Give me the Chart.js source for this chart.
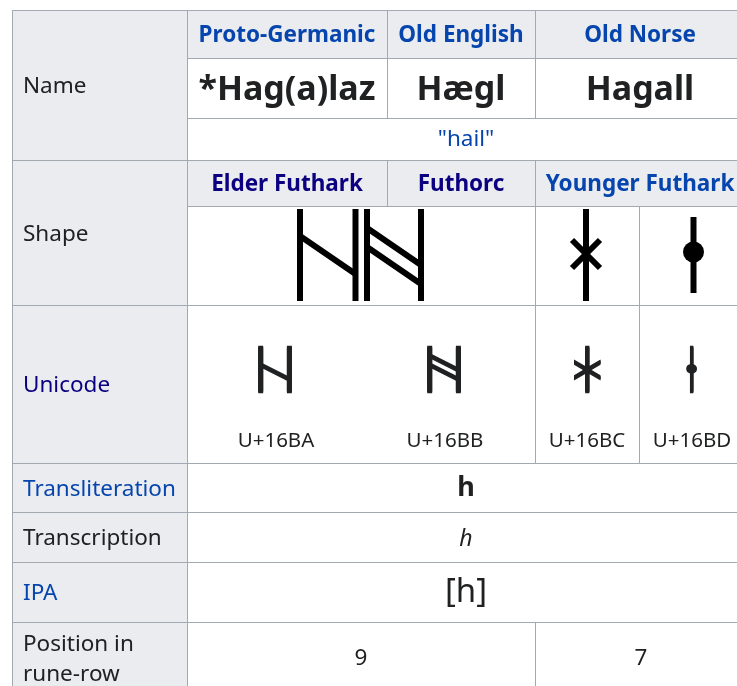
<!DOCTYPE html>
<html>
<head>
<meta charset="utf-8">
<script src="https://cdn.jsdelivr.net/npm/chart.js@4.4.1/dist/chart.umd.min.js"></script>
<style>
    html, body { margin: 0; padding: 0; background: #ffffff; }
    canvas { display: block; }
</style>
</head>
<body>
<canvas id="tablaRunas" width="737" height="686"></canvas>
<script>
// Datos de la tabla (runa hagalaz)
const columnHeaders = ['Proto-Germanic', 'Old English', 'Old Norse'];
const runeNames = ['*Hag(a)laz', 'Hægl', 'Hagall'];
const gloss = '"hail"';
const rowLabels = ['Name', 'Shape', 'Unicode', 'Transliteration', 'Transcription', 'IPA', 'Position in\nrune-row'];
const shapeHeaders = ['Elder Futhark', 'Futhorc', 'Younger Futhark'];
const unicodeGlyphs = ['ᚺ', 'ᚻ', 'ᚼ', 'ᚽ'];
const unicodePoints = ['U+16BA', 'U+16BB', 'U+16BC', 'U+16BD'];
const transliteration = 'h';
const transcription = 'h';
const ipa = '[h]';
const runeRowPosition = ['9', '7'];

const FONT = '"Noto Sans", "Open Sans", sans-serif';
const COLORS = {
    text: '#202122',
    link: '#0645ad',
    visited: '#0b0080',
    headerBg: '#eaecf0',
    border: '#a2a9b1'
};
const labelColors = [COLORS.text, COLORS.text, COLORS.visited, COLORS.link, COLORS.text, COLORS.link, COLORS.text];
const shapeHeaderColors = [COLORS.visited, COLORS.visited, COLORS.link];

// Rejilla de la tabla en unidades de escala
const colX = [12, 187, 387, 535, 745];
const splitX = 639;
const rowY = [10, 58, 118, 160, 206, 305, 463, 512, 562, 622, 694];

const tablaPlugin = {
    id: 'tablaRunas',
    afterDraw(chart) {
        const { ctx, scales: { x, y } } = chart;
        const px = (v) => x.getPixelForValue(v);
        const py = (v) => y.getPixelForValue(v);

        const celdas = [];
        const celda = (x0, x1, y0, y1, gris) => celdas.push({ x0, x1, y0, y1, gris });

        // columna de etiquetas
        celda(colX[0], colX[1], rowY[0], rowY[3], true);
        celda(colX[0], colX[1], rowY[3], rowY[5], true);
        for (let i = 5; i < rowY.length - 1; i++) celda(colX[0], colX[1], rowY[i], rowY[i + 1], true);
        // encabezados y nombres
        for (let c = 1; c < 4; c++) {
            celda(colX[c], colX[c + 1], rowY[0], rowY[1], true);
            celda(colX[c], colX[c + 1], rowY[1], rowY[2], false);
            celda(colX[c], colX[c + 1], rowY[3], rowY[4], true);
        }
        celda(colX[1], colX[4], rowY[2], rowY[3], false);
        // forma y unicode
        [4, 5].forEach((r) => {
            celda(colX[1], colX[3], rowY[r], rowY[r + 1], false);
            celda(colX[3], splitX, rowY[r], rowY[r + 1], false);
            celda(splitX, colX[4], rowY[r], rowY[r + 1], false);
        });
        [6, 7, 8].forEach((r) => celda(colX[1], colX[4], rowY[r], rowY[r + 1], false));
        celda(colX[1], colX[3], rowY[9], rowY[10], false);
        celda(colX[3], colX[4], rowY[9], rowY[10], false);

        ctx.save();
        celdas.forEach((c) => {
            ctx.fillStyle = c.gris ? COLORS.headerBg : '#ffffff';
            ctx.fillRect(px(c.x0), py(c.y0), px(c.x1) - px(c.x0), py(c.y1) - py(c.y0));
        });
        ctx.strokeStyle = COLORS.border;
        ctx.lineWidth = 1;
        celdas.forEach((c) => {
            ctx.strokeRect(Math.round(px(c.x0)) + 0.5, Math.round(py(c.y0)) + 0.5,
                px(c.x1) - px(c.x0), py(c.y1) - py(c.y0));
        });

        const texto = (t, cx, cy, font, color, align) => {
            ctx.font = font;
            ctx.fillStyle = color;
            ctx.textAlign = align || 'center';
            ctx.textBaseline = 'middle';
            ctx.fillText(t, px(cx), py(cy));
        };
        const medio = (a, b) => (a + b) / 2;

        // etiquetas de filas
        const etiquetaY = [medio(rowY[0], rowY[3]), medio(rowY[3], rowY[5])];
        for (let i = 5; i < rowY.length - 1; i++) etiquetaY.push(medio(rowY[i], rowY[i + 1]));
        rowLabels.forEach((lab, i) => {
            const lineas = lab.split('\n');
            lineas.forEach((l, k) => {
                const dy = (k - (lineas.length - 1) / 2) * 30;
                texto(l, colX[0] + 11, etiquetaY[i] + dy + 2, `22.5px ${FONT}`, labelColors[i], 'left');
            });
        });

        columnHeaders.forEach((h, c) => {
            const cx = medio(colX[c + 1], colX[c + 2]);
            texto(h, cx, medio(rowY[0], rowY[1]) + 2, `bold 22.5px ${FONT}`, COLORS.link);
            texto(runeNames[c], cx, medio(rowY[1], rowY[2]) + 2, `bold 34px ${FONT}`, COLORS.text);
            texto(shapeHeaders[c], cx, medio(rowY[3], rowY[4]) + 2, `bold 22.5px ${FONT}`, shapeHeaderColors[c]);
        });
        const centroFila = medio(colX[1], colX[4]);
        texto(gloss, centroFila, medio(rowY[2], rowY[3]) + 1, `22.5px ${FONT}`, COLORS.link);

        // formas dibujadas
        ctx.strokeStyle = '#000000';
        ctx.fillStyle = '#000000';
        ctx.lineWidth = 6;
        ctx.lineCap = 'butt';
        const trazo = (pts) => {
            ctx.beginPath();
            ctx.moveTo(px(pts[0]), py(pts[1]));
            ctx.lineTo(px(pts[2]), py(pts[3]));
            ctx.stroke();
        };
        const top = 209, bot = 301;
        // Elder Futhark
        trazo([300, top, 300, bot]);
        trazo([355.5, top, 355.5, bot]);
        trazo([300, 236, 355.5, 274]);
        // Futhorc
        trazo([367, top, 367, bot]);
        trazo([421, top, 421, bot]);
        trazo([367, 228, 421, 265]);
        trazo([367, 247, 421, 284]);
        // Younger Futhark
        trazo([586, top, 586, bot]);
        trazo([572, 240, 600, 268]);
        trazo([600, 240, 572, 268]);
        trazo([693.5, 217, 693.5, 293]);
        ctx.beginPath();
        ctx.arc(px(693.5), py(252), 10.5, 0, Math.PI * 2);
        ctx.fill();

        // unicode: el glifo de reserva es fino, se ajusta a la caja del original
        const glyphX = [276, 445, 587, 692];
        const glyphW = [36, 36, 27, 11];
        const glyphTop = 346, glyphH = 47;
        ctx.fillStyle = COLORS.text;
        ctx.font = `60px ${FONT}`;
        ctx.textAlign = 'left';
        ctx.textBaseline = 'alphabetic';
        unicodeGlyphs.forEach((g, i) => {
            const m = ctx.measureText(g);
            const w = m.actualBoundingBoxLeft + m.actualBoundingBoxRight;
            const h = m.actualBoundingBoxAscent + m.actualBoundingBoxDescent;
            for (let dy = -1; dy <= 1; dy++) {
                ctx.save();
                ctx.translate(px(glyphX[i] - glyphW[i] / 2), py(glyphTop) + dy);
                ctx.scale(glyphW[i] / w, glyphH / h);
                ctx.fillText(g, m.actualBoundingBoxLeft, m.actualBoundingBoxAscent);
                ctx.restore();
            }
        });
        unicodePoints.forEach((u, i) => texto(u, glyphX[i], 441, `20.5px ${FONT}`, COLORS.text));

        texto(transliteration, centroFila, medio(rowY[6], rowY[7]) + 1, `bold 27px ${FONT}`, COLORS.text);
        texto(transcription, centroFila, medio(rowY[7], rowY[8]) + 2, `italic 23px ${FONT}`, COLORS.text);
        texto(ipa, centroFila, medio(rowY[8], rowY[9]) + 1, `33px ${FONT}`, COLORS.text);
        texto(runeRowPosition[0], medio(colX[1], colX[3]), medio(rowY[9], rowY[10]) + 1, `22.5px ${FONT}`, COLORS.text);
        texto(runeRowPosition[1], 641, medio(rowY[9], rowY[10]) + 1, `22.5px ${FONT}`, COLORS.text);
        ctx.restore();
    }
};

new Chart(document.getElementById('tablaRunas'), {
    type: 'scatter',
    data: { datasets: [] },
    options: {
        responsive: false,
        animation: false,
        layout: { padding: 0 },
        events: [],
        plugins: { legend: { display: false }, tooltip: { enabled: false } },
        scales: {
            x: { type: 'linear', min: 0, max: 737, display: false },
            y: { type: 'linear', min: 0, max: 686, reverse: true, display: false }
        }
    },
    plugins: [tablaPlugin]
});
</script>
</body>
</html>
